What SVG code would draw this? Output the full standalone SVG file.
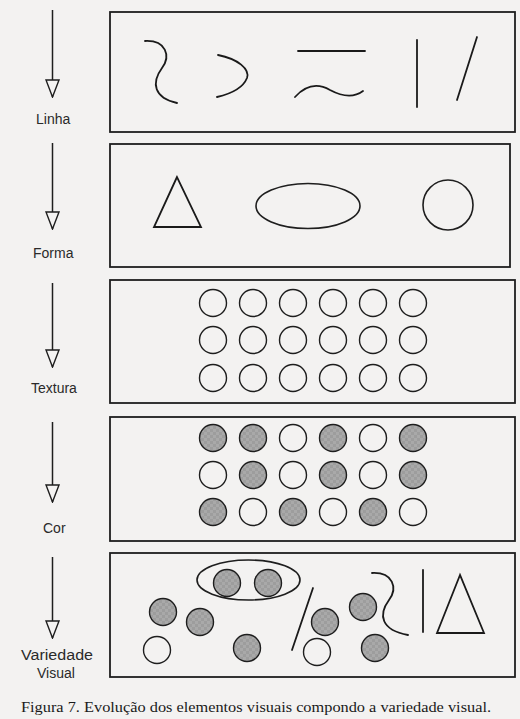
<svg xmlns="http://www.w3.org/2000/svg" width="520" height="719" viewBox="0 0 520 719">
<defs>
<style>
.box{fill:none;stroke:#1e1e1e;stroke-width:1.8}
.ln{fill:none;stroke:#1a1a1a;stroke-width:1.8;stroke-linecap:round}
.o{fill:none;stroke:#1e1e1e;stroke-width:1.4}
.f{fill:url(#tex);stroke:#1e1e1e;stroke-width:1.4}
.lbl{font-family:"Liberation Sans","Arial",sans-serif;font-size:14px;fill:#2a2a2a}
.cap{font-family:"Liberation Serif",serif;font-size:15px;fill:#1a1a1a}
.arr{stroke:#1e1e1e;stroke-width:1.5;fill:none;marker-end:url(#head)}
</style>
<pattern id="tex" width="6" height="6" patternUnits="userSpaceOnUse">
<rect width="6" height="6" fill="#9d9d9d"/>
<rect width="3" height="3" fill="#a9a9a9"/>
<rect x="3" y="3" width="3" height="3" fill="#a9a9a9"/>
</pattern>
<marker id="head" markerUnits="userSpaceOnUse" viewBox="-1 -8 19 16" markerWidth="19" markerHeight="16" refX="17" refY="0" orient="auto">
<path d="M0,-6.5 L17,0 L0,6.5 Z" fill="#f4f3f2" stroke="#1e1e1e" stroke-width="1.4" stroke-linejoin="miter"/>
</marker>
</defs>
<rect width="520" height="719" fill="#f3f2f1"/>

<g id="connectors">
<path class="arr" d="M52.5,10 V97"/>
<path class="arr" d="M52.5,143 V229"/>
<path class="arr" d="M52.5,283 V367"/>
<path class="arr" d="M52.5,422 V502"/>
<path class="arr" d="M52.5,557 V638"/>
</g>

<g id="label-linha"><text class="lbl" x="36" y="124">Linha</text></g>
<g id="label-forma"><text class="lbl" x="33" y="258">Forma</text></g>
<g id="label-textura"><text class="lbl" x="31" y="393">Textura</text></g>
<g id="label-cor"><text class="lbl" x="43" y="533">Cor</text></g>
<g id="label-variedade"><text class="lbl" x="21" y="660" textLength="72" lengthAdjust="spacingAndGlyphs">Variedade</text><text class="lbl" x="37" y="678">Visual</text></g>

<g id="box-linha">
<rect class="box" x="110" y="12" width="405" height="120"/>
<path class="ln" d="M145,41 C166,40 171,56 162,68 C151,83 154,98 177,103"/>
<path class="ln" d="M218,55 C238,59 250,69 247,78 C243,88 230,94 217,97"/>
<path class="ln" d="M298,51 H365"/>
<path class="ln" d="M295,97 C305,86 316,82 330,90 C345,98 355,97 363,91"/>
<path class="ln" d="M417,40 V107"/>
<path class="ln" d="M477,37 L457,100"/>
</g>

<g id="box-forma">
<rect class="box" x="110" y="144" width="400" height="123"/>
<path class="ln" d="M177,177 L154,227 H201 Z" style="stroke-linejoin:miter"/>
<ellipse class="o" cx="308" cy="206" rx="52" ry="22.5" style="stroke-width:1.6"/>
<circle class="o" cx="448" cy="205" r="25" style="stroke-width:1.6"/>
</g>

<g id="box-textura">
<rect class="box" x="110" y="280" width="405" height="123"/>
<g class="o">
<circle cx="213" cy="303" r="13.5"/><circle cx="253" cy="303" r="13.5"/><circle cx="293" cy="303" r="13.5"/><circle cx="333" cy="303" r="13.5"/><circle cx="373" cy="303" r="13.5"/><circle cx="413" cy="303" r="13.5"/>
<circle cx="213" cy="340" r="13.5"/><circle cx="253" cy="340" r="13.5"/><circle cx="293" cy="340" r="13.5"/><circle cx="333" cy="340" r="13.5"/><circle cx="373" cy="340" r="13.5"/><circle cx="413" cy="340" r="13.5"/>
<circle cx="213" cy="378" r="13.5"/><circle cx="253" cy="378" r="13.5"/><circle cx="293" cy="378" r="13.5"/><circle cx="333" cy="378" r="13.5"/><circle cx="373" cy="378" r="13.5"/><circle cx="413" cy="378" r="13.5"/>
</g>
</g>

<g id="box-cor">
<rect class="box" x="110" y="417" width="405" height="124"/>
<circle class="f" cx="213" cy="438" r="13.5"/><circle class="f" cx="253" cy="438" r="13.5"/><circle class="o" cx="293" cy="438" r="13.5"/><circle class="f" cx="333" cy="438" r="13.5"/><circle class="o" cx="373" cy="438" r="13.5"/><circle class="f" cx="413" cy="438" r="13.5"/>
<circle class="o" cx="213" cy="475" r="13.5"/><circle class="f" cx="253" cy="475" r="13.5"/><circle class="o" cx="293" cy="475" r="13.5"/><circle class="f" cx="333" cy="475" r="13.5"/><circle class="o" cx="373" cy="475" r="13.5"/><circle class="f" cx="413" cy="475" r="13.5"/>
<circle class="f" cx="213" cy="512" r="13.5"/><circle class="o" cx="253" cy="512" r="13.5"/><circle class="f" cx="293" cy="512" r="13.5"/><circle class="o" cx="333" cy="512" r="13.5"/><circle class="f" cx="373" cy="512" r="13.5"/><circle class="o" cx="413" cy="512" r="13.5"/>
</g>

<g id="box-variedade">
<rect class="box" x="110" y="553" width="405" height="124"/>
<ellipse class="o" cx="248.5" cy="580" rx="51.5" ry="20" style="stroke-width:1.6"/>
<circle class="f" cx="227" cy="583" r="13.5"/>
<circle class="f" cx="268" cy="583" r="13.5"/>
<circle class="f" cx="163" cy="612" r="13.5"/>
<circle class="f" cx="200" cy="622" r="13.5"/>
<circle class="o" cx="157" cy="650" r="13.5"/>
<circle class="f" cx="247" cy="648" r="13.5"/>
<path class="ln" d="M313,588 L292,650"/>
<circle class="f" cx="325" cy="622" r="13.5"/>
<circle class="f" cx="363" cy="607" r="13.5"/>
<circle class="o" cx="317" cy="652" r="13.5"/>
<circle class="f" cx="375" cy="648" r="13.5"/>
<path class="ln" d="M372,573 C393,572 398,588 389,600 C378,615 381,630 408,635"/>
<path class="ln" d="M423,570 V632"/>
<path class="ln" d="M460,575 L437,633 H484 Z" style="stroke-linejoin:miter"/>
</g>

<g id="caption"><text class="cap" x="21" y="712" textLength="470" lengthAdjust="spacingAndGlyphs">Figura 7. Evolução dos elementos visuais compondo a variedade visual.</text></g>
</svg>
